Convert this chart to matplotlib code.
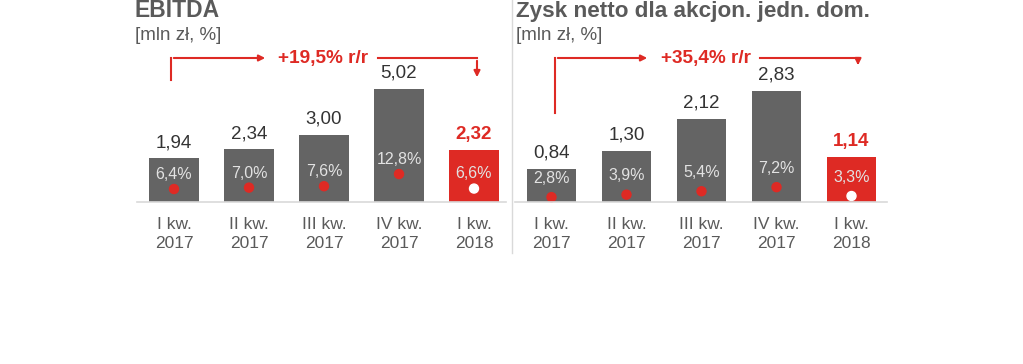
import matplotlib.pyplot as plt
from matplotlib.lines import Line2D
from matplotlib.patches import FancyArrowPatch

plt.rcParams["font.family"] = ["Liberation Sans", "DejaVu Sans"]

categories = ["I kw.\n2017", "II kw.\n2017", "III kw.\n2017", "IV kw.\n2017", "I kw.\n2018"]

ebitda = [1.94, 2.34, 3.00, 5.02, 2.32]
ebitda_margin = [6.4, 7.0, 7.6, 12.8, 6.6]
ebitda_labels = ["1,94", "2,34", "3,00", "5,02", "2,32"]
ebitda_margin_labels = ["6,4%", "7,0%", "7,6%", "12,8%", "6,6%"]

netto = [0.84, 1.30, 2.12, 2.83, 1.14]
netto_margin = [2.8, 3.9, 5.4, 7.2, 3.3]
netto_labels = ["0,84", "1,30", "2,12", "2,83", "1,14"]
netto_margin_labels = ["2,8%", "3,9%", "5,4%", "7,2%", "3,3%"]

GRAY = "#646464"
RED = "#DE2A24"
TXT = "#5a5a5a"

W, H = 1023, 364
fig = plt.figure(figsize=(W / 100, H / 100), dpi=100)


def px(x, y):
    # pixel (from top-left) to figure fraction
    return x / W, 1 - y / H


def panel(x0, x1, c0, vals, pxu, margins, ppct, pct_base, labels, mlabels, moff):
    ax = fig.add_axes([x0 / W, 0, (x1 - x0) / W, 1])
    ax.set_xlim((x0 - c0) / 75, (x1 - c0) / 75)
    base = 202
    ax.set_ylim(-(H - base) / pxu, base / pxu)
    ax.axis("off")
    ax2 = ax.twinx()
    ax2.set_ylim(-(H - pct_base) / ppct, pct_base / ppct)
    ax2.axis("off")
    xs = list(range(len(vals)))
    colors = [GRAY] * (len(vals) - 1) + [RED]
    ax.bar(xs, vals, width=0.66, color=colors, zorder=2)
    for i, v in enumerate(vals):
        last = i == len(vals) - 1
        ax.annotate(labels[i], (i, v), xytext=(0, 8), textcoords="offset points",
                    ha="center", va="baseline", fontsize=13.5,
                    color=RED if last else "#333333",
                    fontweight="bold" if last else "normal")
        ax.text(i, -15 / pxu, categories[i], ha="center", va="top",
                fontsize=12.5, color=TXT, linespacing=1.3)
    dot_colors = [RED] * (len(vals) - 1) + ["white"]
    ax2.scatter(xs, margins, s=42, color=dot_colors, zorder=3)
    for i, m in enumerate(margins):
        ax2.annotate(mlabels[i], (i, m), xytext=(0, moff), textcoords="offset points",
                     ha="center", va="center", fontsize=11.5, color="#e2e2e2", zorder=4)
    return ax


panel(135, 510, 174, ebitda, 22.5, ebitda_margin, 2.34, 204,
      ebitda_labels, ebitda_margin_labels, 10.5)
panel(515, 900, 551.5, netto, 39.3, netto_margin, 2.27, 203.5,
      netto_labels, netto_margin_labels, 13.5)

# baselines and divider
for xa, xb in [(137, 506), (515, 887)]:
    fig.add_artist(Line2D([xa / W, xb / W], [1 - 202 / H] * 2, color="#d9d9d9", lw=1.2))
fig.add_artist(Line2D([512 / W] * 2, [1, 1 - 253 / H], color="#d9d9d9", lw=1))

# titles
fig.text(*px(135, 17), "EBITDA", fontsize=16.5, fontweight="bold", color=TXT, va="baseline")
fig.text(*px(135, 40), "[mln zł, %]", fontsize=13.5, color=TXT, va="baseline")
fig.text(*px(516, 17), "Zysk netto dla akcjon. jedn. dom.", fontsize=16.2, fontweight="bold",
         color=TXT, va="baseline")
fig.text(*px(516, 40), "[mln zł, %]", fontsize=13.5, color=TXT, va="baseline")


def growth(xv, yv, x_arr, label, xt, x_ret, xd, yd):
    fig.add_artist(Line2D([px(xv, 0)[0]] * 2, [px(0, yv)[1], px(0, 58)[1]], color=RED, lw=1.5))
    fig.add_artist(FancyArrowPatch(px(xv, 58), px(x_arr, 58), transform=fig.transFigure,
                                   arrowstyle="-|>", mutation_scale=9, color=RED, lw=1.5))
    fig.text(*px(xt, 58), label, fontsize=13.7, fontweight="bold", color=RED,
             ha="center", va="center")
    fig.add_artist(Line2D([px(x_ret, 0)[0], px(xd, 0)[0]], [px(0, 58)[1]] * 2, color=RED, lw=1.5))
    fig.add_artist(FancyArrowPatch(px(xd, 58), px(xd, yd), transform=fig.transFigure,
                                   arrowstyle="-|>", mutation_scale=9, color=RED, lw=1.5))


growth(171, 80, 268, "+19,5% r/r", 323, 378, 477, 80)
growth(555, 113, 650, "+35,4% r/r", 706, 760, 858, 68)

fig.savefig("out.png", dpi=100)
